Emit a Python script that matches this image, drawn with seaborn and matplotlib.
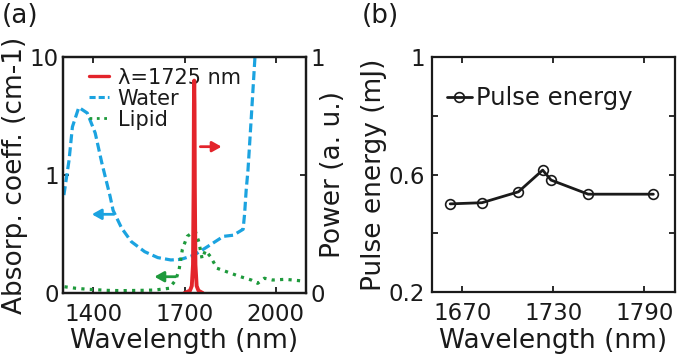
import matplotlib
matplotlib.use('Agg')
import matplotlib.pyplot as plt
import seaborn as sns
from matplotlib.lines import Line2D
from matplotlib.ticker import NullLocator

# panel (a): absorption of water and lipid, laser spectrum
water_wl = [1303, 1320, 1331, 1352, 1380, 1406, 1428, 1455, 1465, 1493, 1525, 1569, 1612,
            1655, 1688, 1731, 1774, 1828, 1861, 1893, 1898, 1903, 1909, 1920, 1932, 1936]
water_abs = [0.83, 1.34, 2.56, 3.74, 3.35, 2.27, 1.26, 0.82, 0.70, 0.55, 0.435, 0.35, 0.30,
             0.28, 0.285, 0.32, 0.39, 0.48, 0.49, 0.54, 0.675, 0.87, 1.10, 3.11, 10.0, 12.0]

lipid_wl = [1305, 1342, 1384, 1450, 1493, 1550, 1601, 1650, 1671, 1682, 1693, 1709, 1725,
            1736, 1747, 1758, 1769, 1785, 1807, 1839, 1882, 1920, 1941, 1963, 1990, 2033, 2095]
lipid_abs = [0.053, 0.04, 0.031, 0.022, 0.02, 0.022, 0.025, 0.04, 0.11, 0.195, 0.37, 0.48, 0.51,
             0.52, 0.435, 0.29, 0.36, 0.31, 0.21, 0.18, 0.14, 0.11, 0.082, 0.125, 0.11, 0.116, 0.10]

power_wl = [1700, 1718, 1724, 1728, 1730, 1731, 1732, 1733, 1734, 1736, 1740, 1746, 1760]
power_val = [0.0, 0.01, 0.03, 0.12, 0.45, 0.8, 0.9, 0.8, 0.45, 0.12, 0.03, 0.01, 0.0]

# panel (b): pulse energy
pulse_wl = [1662, 1683, 1707, 1723, 1728.5, 1753, 1796]
pulse_energy = [0.50, 0.504, 0.541, 0.615, 0.581, 0.533, 0.533]

red = '#e3242b'
blue = '#1ba3e0'
green = '#1e9a3c'
ink = '#1a1a1a'

sns.set_style('ticks')
plt.rcParams['font.family'] = ['DejaVu Sans']
plt.rcParams['axes.linewidth'] = 1.6
plt.rcParams['text.color'] = ink
plt.rcParams['axes.labelcolor'] = ink
plt.rcParams['xtick.color'] = ink
plt.rcParams['ytick.color'] = ink

fig = plt.figure(figsize=(6.78, 3.57), dpi=100)

# ---- (a)
ax = fig.add_axes([63 / 678, 64 / 357, 243 / 678, 236 / 357])
ax2 = ax.twinx()
ax.set_zorder(1)
ax.patch.set_visible(False)
ax2.set_zorder(2)

sns.lineplot(x=water_wl, y=water_abs, ax=ax, color=blue, lw=2.3, legend=False)
ax.lines[-1].set_dashes([2.8, 1.3])
sns.lineplot(x=lipid_wl, y=lipid_abs, ax=ax, color=green, lw=2.3, linestyle=':', legend=False)
sns.lineplot(x=power_wl, y=power_val, ax=ax2, color=red, lw=2.8, legend=False)

ax.set_yscale('symlog', linthresh=1, linscale=0.9)
ax.set_ylim(0, 10)
ax.set_xlim(1300, 2100)
ax.set_yticks([0, 1, 10])
ax.set_yticklabels(['0', '1', '10'])
ax.yaxis.set_minor_locator(NullLocator())
ax.set_xticks([1400, 1700, 2000])
ax2.set_ylim(0, 1)
ax2.set_yticks([0, 0.5, 1])
ax2.set_yticklabels(['0', '', '1'])

ax.tick_params(axis='both', direction='in', length=4, width=1.3, labelsize=16.5, top=True)
ax.tick_params(axis='y', pad=3)
ax.tick_params(axis='x', pad=7)
ax2.tick_params(axis='y', direction='in', length=4, width=1.3, labelsize=16.5, pad=3)

ax.set_xlabel('Wavelength (nm)', fontsize=19, labelpad=2)
ax.set_ylabel('Absorp. coeff. (cm-1)', fontsize=19)
ax.yaxis.set_label_coords(-0.144, 0.5)
ax2.set_ylabel('Power (a. u.)', fontsize=19)
ax2.yaxis.set_label_coords(1.058, 0.5)

arrow = dict(arrowstyle='-|>,head_length=0.5,head_width=0.28', lw=2, shrinkA=0, shrinkB=0,
             mutation_scale=11)
ax2.annotate('', xy=(1822, 0.62), xytext=(1752, 0.62), arrowprops=dict(arrow, color=red))
ax.annotate('', xy=(1395, 0.667), xytext=(1466, 0.667), arrowprops=dict(arrow, color=blue))
ax.annotate('', xy=(1601, 0.138), xytext=(1671, 0.138), arrowprops=dict(arrow, color=green))

handles = [Line2D([], [], color=red, lw=2.4),
           Line2D([], [], color=blue, lw=2.2, dashes=[2.0, 1.0]),
           Line2D([], [], color=green, lw=2.0, linestyle=':')]
ax.legend(handles, ['λ=1725 nm', 'Water', 'Lipid'], loc='upper left',
          bbox_to_anchor=(0.105, 0.955), frameon=False, fontsize=15, handlelength=1.0,
          handletextpad=0.4, labelspacing=0.05, borderpad=0, borderaxespad=0)

# ---- (b)
bx = fig.add_axes([432 / 678, 65 / 357, 242.6 / 678, 235 / 357])
sns.lineplot(x=pulse_wl, y=pulse_energy, ax=bx, color=ink, lw=2, marker='o',
             markersize=7, markerfacecolor='none', markeredgecolor=ink,
             markeredgewidth=1.2, label='Pulse energy')
bx.set_xlim(1650, 1810)
bx.set_ylim(0.2, 1)
bx.set_xticks([1670, 1730, 1790])
bx.set_yticks([0.2, 0.6, 1.0])
bx.set_yticklabels(['0.2', '0.6', '1'])
bx.set_yticks([0.4, 0.8], minor=True)
bx.tick_params(axis='both', which='both', direction='in', length=4, width=1.3,
               labelsize=16.5, top=True, right=True)
bx.tick_params(axis='y', pad=5)
bx.tick_params(axis='x', pad=7)
bx.set_xlabel('Wavelength (nm)', fontsize=19, labelpad=2)
bx.set_ylabel('Pulse energy (mJ)', fontsize=19)
bx.yaxis.set_label_coords(-0.185, 0.5)
bx.legend(loc='upper left', bbox_to_anchor=(0.063, 0.875), frameon=False, fontsize=17.5,
          handlelength=1.0, handletextpad=0.2, borderpad=0, borderaxespad=0)

for a in (ax, ax2, bx):
    for s in a.spines.values():
        s.set_color(ink)
        s.set_linewidth(1.6)

fig.text(2 / 678, 1 - 3 / 357, '(a)', fontsize=19, va='top', ha='left')
fig.text(362 / 678, 1 - 3 / 357, '(b)', fontsize=19, va='top', ha='left')

fig.savefig('out.png', dpi=100)
